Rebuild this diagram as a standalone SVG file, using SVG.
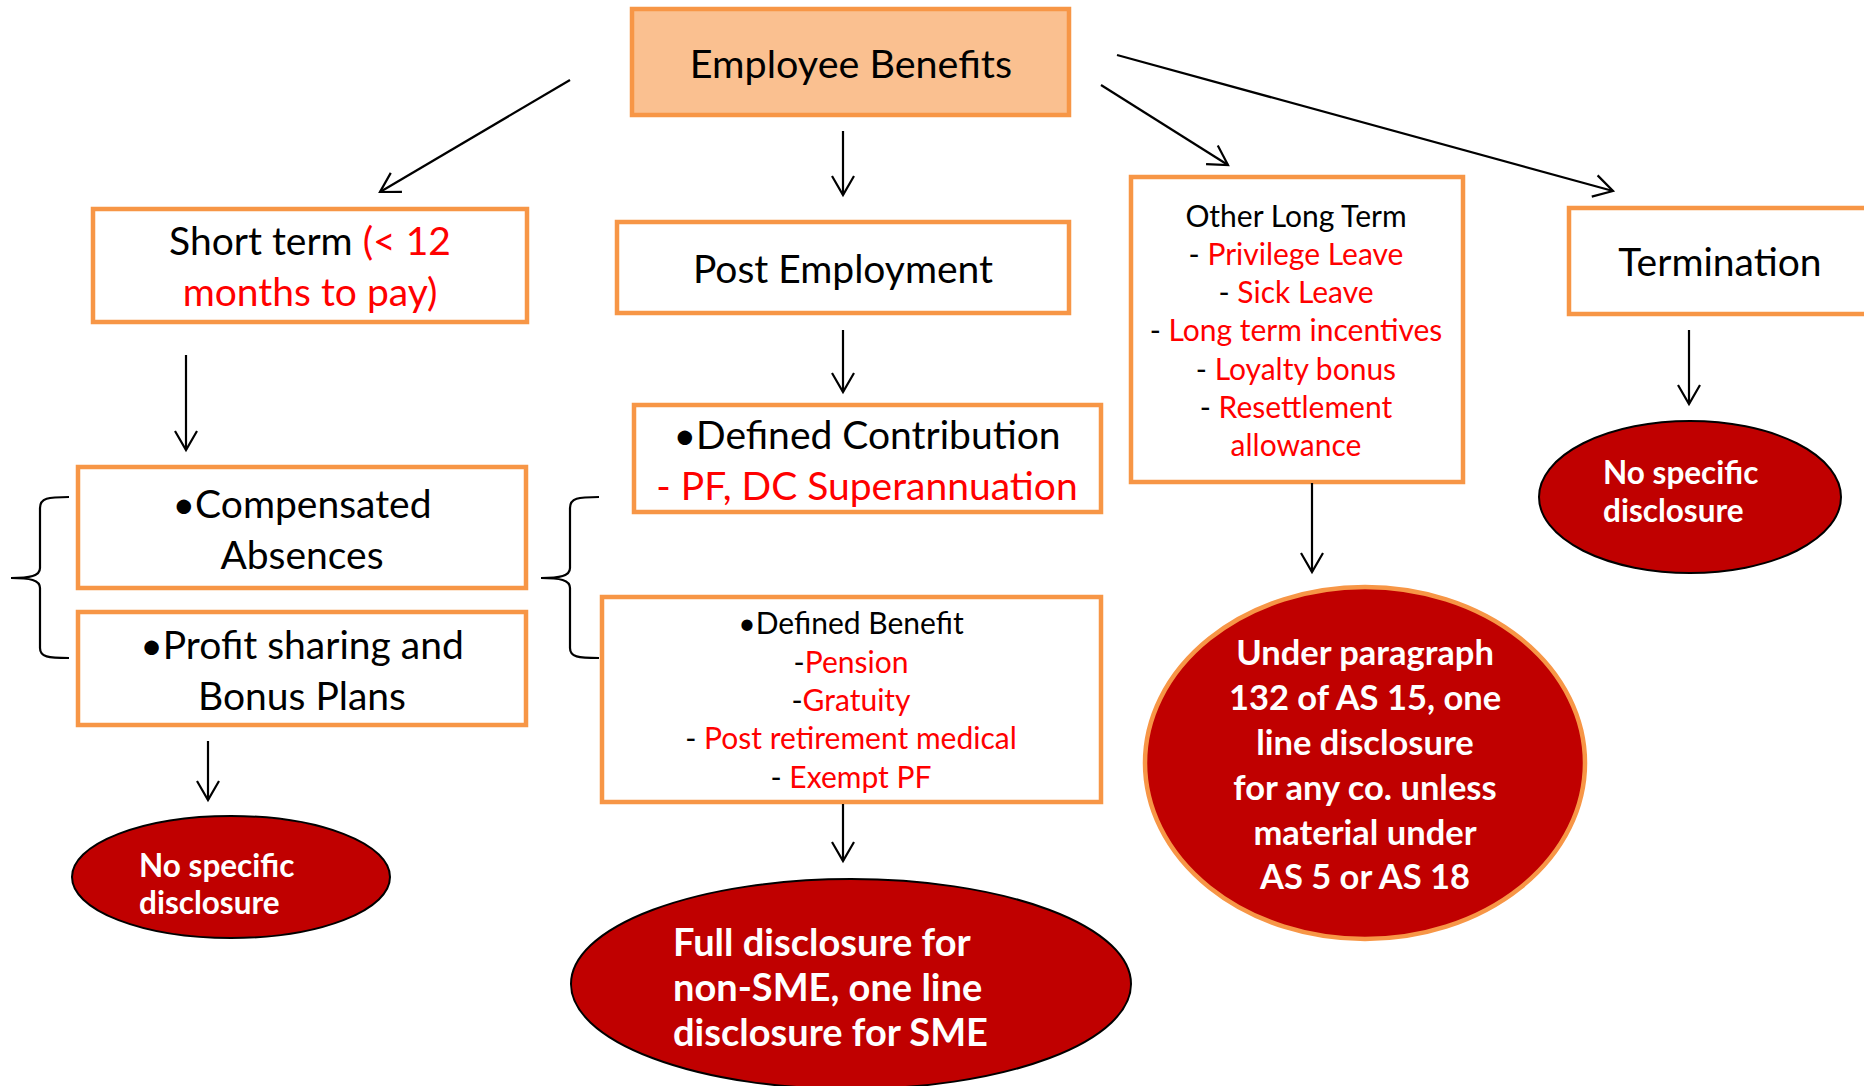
<svg xmlns="http://www.w3.org/2000/svg" width="1864" height="1086" viewBox="0 0 1864 1086">
<defs>
<marker id="ah" markerUnits="userSpaceOnUse" markerWidth="30" markerHeight="30" refX="0" refY="0" viewBox="-22 -15 26 30" orient="auto">
<path d="M-19,-11 L0,0 L-19,11" fill="none" stroke="#000" stroke-width="2.2"/>
</marker>
</defs>
<style>
.box{fill:#fff;stroke:#F79646;stroke-width:4.5}
.hdr{fill:#FAC090;stroke:#F79646;stroke-width:4.5}
.ell{fill:#C00000;stroke:#000;stroke-width:2}
.ello{fill:#C00000;stroke:#F79646;stroke-width:4.5}
.t{font-family:Lato,"Liberation Sans",sans-serif;fill:#000}
.big{font-size:39px}
.mid{font-size:30px}
.r{fill:#FF0000}
.w{font-family:Lato,"Liberation Sans",sans-serif;fill:#fff;font-weight:bold}
.c{text-anchor:middle}
.con line{stroke:#000;stroke-width:2.2;marker-end:url(#ah)}
.brace{fill:none;stroke:#000;stroke-width:2.2}
</style>
<rect width="1864" height="1086" fill="#fff"/>

<g id="employee-benefits">
<rect class="hdr" x="632" y="9" width="437" height="106"/>
<text class="t big c" x="851" y="78" style="font-size:39.5px">Employee Benefits</text>
</g>

<g id="short-term">
<rect class="box" x="93" y="209" width="434" height="113"/>
<text class="t big c" x="310" y="255">Short term <tspan class="r">(&lt; 12</tspan></text>
<text class="t big c r" x="310" y="306">months to pay)</text>
</g>

<g id="post-employment">
<rect class="box" x="617" y="222" width="452" height="91"/>
<text class="t big c" x="843" y="283">Post Employment</text>
</g>

<g id="other-long-term">
<rect class="box" x="1131" y="177" width="332" height="305"/>
<text class="t mid c" x="1296" y="227">Other Long Term</text>
<text class="t mid c" x="1296" y="265">- <tspan class="r">Privilege Leave</tspan></text>
<text class="t mid c" x="1296" y="303">- <tspan class="r">Sick Leave</tspan></text>
<text class="t mid c" x="1296" y="341">- <tspan class="r">Long term incentives</tspan></text>
<text class="t mid c" x="1296" y="380">- <tspan class="r">Loyalty bonus</tspan></text>
<text class="t mid c" x="1296" y="418">- <tspan class="r">Resettlement</tspan></text>
<text class="t mid c r" x="1296" y="456">allowance</text>
</g>

<g id="termination">
<rect class="box" x="1569" y="208" width="310" height="106"/>
<text class="t big c" x="1720" y="276">Termination</text>
</g>

<g id="compensated-absences">
<rect class="box" x="78" y="467" width="448" height="121"/>
<text class="t big c" x="302" y="518">•Compensated</text>
<text class="t big c" x="302" y="569">Absences</text>
</g>

<g id="profit-sharing">
<rect class="box" x="78" y="612" width="448" height="113"/>
<text class="t big c" x="302" y="659">•Profit sharing and</text>
<text class="t big c" x="302" y="710">Bonus Plans</text>
</g>

<g id="defined-contribution">
<rect class="box" x="634" y="405" width="467" height="107"/>
<text class="t big c" x="867" y="449">•Defined Contribution</text>
<text class="t big c r" x="867" y="500">- PF, DC Superannuation</text>
</g>

<g id="defined-benefit">
<rect class="box" x="602" y="597" width="499" height="205"/>
<text class="t mid c" x="851" y="634">•Defined Benefit</text>
<text class="t mid c" x="851" y="673">-<tspan class="r">Pension</tspan></text>
<text class="t mid c" x="851" y="711">-<tspan class="r">Gratuity</tspan></text>
<text class="t mid c" x="851" y="749">- <tspan class="r">Post retirement medical</tspan></text>
<text class="t mid c" x="851" y="788">- <tspan class="r">Exempt PF</tspan></text>
</g>

<g id="no-disclosure-left">
<ellipse class="ell" cx="231" cy="877" rx="159" ry="61"/>
<text class="w" x="139" y="877" font-size="31.5">No specific</text>
<text class="w" x="139" y="914" font-size="31.5">disclosure</text>
</g>

<g id="full-disclosure">
<ellipse class="ell" cx="851" cy="984" rx="280" ry="105"/>
<text class="w" x="673" y="956" font-size="38">Full disclosure for</text>
<text class="w" x="673" y="1001" font-size="38">non-SME, one line</text>
<text class="w" x="673" y="1046" font-size="38">disclosure for SME</text>
</g>

<g id="paragraph-132">
<ellipse class="ello" cx="1365" cy="763" rx="220" ry="176"/>
<text class="w c" x="1365" y="665" font-size="34.5">Under paragraph</text>
<text class="w c" x="1365" y="710" font-size="34.5">132 of AS 15, one</text>
<text class="w c" x="1365" y="755" font-size="34.5">line disclosure</text>
<text class="w c" x="1365" y="800" font-size="34.5">for any co. unless</text>
<text class="w c" x="1365" y="845" font-size="34.5">material under</text>
<text class="w c" x="1365" y="889" font-size="34.5">AS 5 or AS 18</text>
</g>

<g id="no-disclosure-right">
<ellipse class="ell" cx="1690" cy="497" rx="151" ry="76"/>
<text class="w" x="1603" y="484" font-size="31.5">No specific</text>
<text class="w" x="1603" y="522" font-size="31.5">disclosure</text>
</g>

<g id="connectors" class="con">
<line x1="570" y1="80" x2="380" y2="192"/>
<line x1="843" y1="131" x2="843" y2="195"/>
<line x1="1101" y1="85" x2="1228" y2="165"/>
<line x1="1117" y1="55" x2="1613" y2="191"/>
<line x1="186" y1="355" x2="186" y2="450"/>
<line x1="843" y1="330" x2="843" y2="392"/>
<line x1="208" y1="741" x2="208" y2="800"/>
<line x1="843" y1="804" x2="843" y2="861"/>
<line x1="1312" y1="483" x2="1312" y2="572"/>
<line x1="1689" y1="330" x2="1689" y2="404"/>
<path class="brace" d="M69,497 C48,497 40,498 40,508 L40,568 C40,576 30,578 11,578 C30,578 40,580 40,588 L40,648 C40,657 48,658 69,658"/>
<path class="brace" d="M599,497 C578,497 570,498 570,508 L570,568 C570,576 560,578 541,578 C560,578 570,580 570,588 L570,648 C570,657 578,658 599,658"/>
</g>
</svg>
